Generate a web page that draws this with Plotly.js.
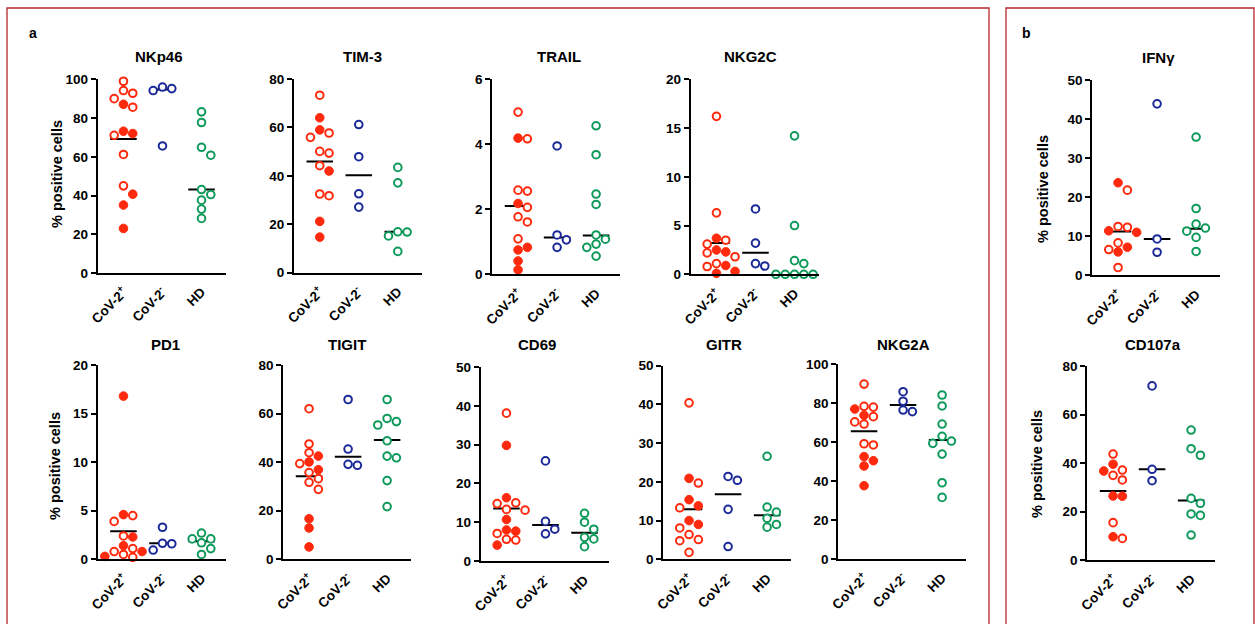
<!DOCTYPE html>
<html>
<head>
<meta charset="utf-8">
<script src="https://cdn.plot.ly/plotly-3.0.1.min.js"></script>
<style>html,body{margin:0;padding:0;background:#fff;}#chart{width:1255px;height:624px;}</style>
</head>
<body>
<div id="chart"></div>
<script>
// ---------------- DATA ----------------
const groups = ["CoV-2<sup>+</sup>", "CoV-2<sup>-</sup>", "HD"];
const markerNames = ["NKp46", "TIM-3", "TRAIL", "NKG2C", "IFNγ", "PD1", "TIGIT", "CD69", "GITR", "NKG2A", "CD107a"];

const nkp46_posOpen   = [99.0, 94.2, 92.8, 90.0, 85.6, 71.1, 61.2, 45.0];
const nkp46_posFilled = [87.1, 73.2, 72.0, 40.7, 35.1, 23.0];
const nkp46_neg       = [96.0, 95.2, 94.2, 65.6];
const nkp46_hd        = [83.2, 77.7, 64.9, 60.8, 43.1, 40.5, 37.6, 33.0, 28.2];
const nkp46_lines     = [69.2, 94.7, 43.1];

const tim3_posOpen    = [73.3, 57.7, 55.9, 50.1, 49.4, 44.2, 32.5, 31.8];
const tim3_posFilled  = [64.0, 59.0, 42.0, 21.2, 14.7];
const tim3_neg        = [61.2, 47.9, 32.6, 27.1];
const tim3_hd         = [43.5, 37.1, 16.9, 16.8, 15.2, 8.8];
const tim3_lines      = [45.9, 40.2, 16.9];

const trail_posOpen   = [4.99, 4.17, 2.59, 2.56, 2.06, 1.77, 1.61, 1.09];
const trail_posFilled = [4.19, 2.18, 0.83, 0.75, 0.41, 0.14];
const trail_neg       = [3.95, 1.21, 1.06, 0.83];
const trail_hd        = [4.57, 3.68, 2.47, 2.15, 1.21, 1.08, 0.93, 0.83, 0.56];
const trail_lines     = [2.10, 1.13, 1.19];

const nkg2c_posOpen   = [16.2, 6.3, 3.5, 3.1, 2.2, 1.8, 1.1, 0.8];
const nkg2c_posFilled = [3.7, 2.5, 2.3, 0.9, 0.3, 0.1];
const nkg2c_neg       = [6.7, 3.2, 1.1, 0.85];
const nkg2c_hd        = [14.2, 5.0, 1.4, 1.1, 0, 0, 0, 0, 0];
const nkg2c_lines     = [3.2, 2.2, 0];

const ifng_posOpen    = [21.8, 12.5, 12.3, 8.3, 6.6, 2.0];
const ifng_posFilled  = [23.7, 11.4, 11.0, 7.2, 6.0];
const ifng_neg        = [43.9, 9.3, 5.9];
const ifng_hd         = [35.4, 17.1, 13.1, 12.1, 11.3, 9.7, 6.1];
const ifng_lines      = [11.2, 9.3, 11.9];

const pd1_posOpen     = [4.5, 3.9, 2.4, 1.1, 0.8, 0.5, 0.2];
const pd1_posFilled   = [16.8, 4.6, 2.3, 1.4, 0.8, 0.3];
const pd1_neg         = [3.3, 1.65, 1.6, 0.95];
const pd1_hd          = [2.7, 2.1, 2.1, 1.7, 1.1, 0.5];
const pd1_lines       = [2.9, 1.65, 1.85];

const tigit_posOpen   = [62.0, 47.5, 43.9, 39.4, 35.7, 33.2, 31.7, 28.8];
const tigit_posFilled = [42.5, 40.1, 36.9, 16.7, 12.9, 5.1];
const tigit_neg       = [65.8, 45.4, 39.1, 38.7];
const tigit_hd        = [65.8, 58.0, 56.7, 55.3, 48.8, 42.5, 41.8, 32.4, 21.7];
const tigit_lines     = [34.2, 42.2, 49.1];

const cd69_posOpen    = [38.1, 15.0, 14.8, 13.3, 13.1, 7.1, 5.6, 5.4];
const cd69_posFilled  = [29.8, 16.3, 10.7, 8.0, 7.7, 4.1];
const cd69_neg        = [25.8, 10.2, 8.2, 7.0];
const cd69_hd         = [12.3, 10.0, 8.2, 6.1, 5.7, 3.7];
const cd69_lines      = [13.5, 9.3, 7.3];

const gitr_posOpen    = [40.4, 19.7, 13.3, 8.1, 6.4, 5.1, 4.8, 1.8];
const gitr_posFilled  = [20.9, 15.4, 13.8, 10.0, 9.0];
const gitr_neg        = [21.4, 20.4, 12.9, 3.3];
const gitr_hd         = [26.6, 13.5, 12.2, 10.6, 9.0, 8.3];
const gitr_lines      = [12.9, 16.8, 11.4];

const nkg2a_posOpen   = [89.7, 78.3, 77.9, 73.0, 70.3, 69.2, 59.1, 58.5];
const nkg2a_posFilled = [76.9, 73.7, 52.5, 50.4, 47.7, 37.6];
const nkg2a_neg       = [85.8, 80.9, 76.4, 75.6];
const nkg2a_hd        = [84.1, 78.5, 69.2, 62.9, 60.5, 59.3, 53.8, 39.1, 31.6];
const nkg2a_lines     = [65.5, 79.0, 61.0];

const cd107a_posOpen   = [43.7, 37.1, 34.9, 33.0, 15.4, 8.9];
const cd107a_posFilled = [39.5, 36.7, 26.4, 26.3, 9.6];
const cd107a_neg       = [71.8, 37.4, 32.7];
const cd107a_hd        = [53.6, 45.9, 43.2, 25.4, 23.4, 19.0, 18.4, 10.3];
const cd107a_lines     = [28.5, 37.4, 24.5];

const yMax  = [100, 80, 6, 20, 50, 20, 80, 50, 50, 100, 80];
const yStep = [20, 20, 2, 5, 10, 5, 20, 10, 10, 20, 20];

// ---------------- LAYOUT / STYLE ----------------
const W = 1255, H = 624;
const RED = "#ff2a0e", BLUE = "#1b2a98", GREEN = "#0f9a5c", BORDER = "#b3262b";
const FONT = "Liberation Sans, Arial, Helvetica, sans-serif";
const XR = [-0.66, 2.62], XW = 128, PXCAT = XW / (XR[1] - XR[0]);

const series = [
  [nkp46_posOpen, nkp46_posFilled, nkp46_neg, nkp46_hd, nkp46_lines],
  [tim3_posOpen, tim3_posFilled, tim3_neg, tim3_hd, tim3_lines],
  [trail_posOpen, trail_posFilled, trail_neg, trail_hd, trail_lines],
  [nkg2c_posOpen, nkg2c_posFilled, nkg2c_neg, nkg2c_hd, nkg2c_lines],
  [ifng_posOpen, ifng_posFilled, ifng_neg, ifng_hd, ifng_lines],
  [pd1_posOpen, pd1_posFilled, pd1_neg, pd1_hd, pd1_lines],
  [tigit_posOpen, tigit_posFilled, tigit_neg, tigit_hd, tigit_lines],
  [cd69_posOpen, cd69_posFilled, cd69_neg, cd69_hd, cd69_lines],
  [gitr_posOpen, gitr_posFilled, gitr_neg, gitr_hd, gitr_lines],
  [nkg2a_posOpen, nkg2a_posFilled, nkg2a_neg, nkg2a_hd, nkg2a_lines],
  [cd107a_posOpen, cd107a_posFilled, cd107a_neg, cd107a_hd, cd107a_lines]
];

// panel geometry in pixels: [x0, yTop, yBottom]
const geom = [
  [97.7, 79.3, 273.0], [294.0, 79.0, 272.7], [492.3, 79.3, 274.3], [690.7, 79.3, 274.3], [1092.3, 80.0, 275.3],
  [97.7, 365.0, 559.3], [283.3, 365.0, 559.3], [480.7, 367.0, 561.0], [663.3, 365.7, 559.3], [838.3, 364.0, 559.0], [1087.3, 366.0, 560.0]
];
const titlePos = [
  [159, 56], [362, 56], [559, 56], [750, 56], [1158, 57],
  [165, 344], [347, 344], [537, 344], [724, 344], [903, 344], [1153, 344]
];
const yTitlePos = [[57, 174, 0], [55, 466, 5], [1043, 189, 4], [1037, 464, 10]];

// simple beeswarm layout (horizontal spreading of overlapping dots)
function swarm(vals, center, pxY) {
  const step = 9.3 / PXCAT, D = 8.6;
  const order = vals.map((v, i) => i).sort((a, b) => vals[b] - vals[a]);
  const placed = [], xs = new Array(vals.length);
  const cands = [0, 1, -1, 2, -2, 3, -3, 4, -4];
  for (const i of order) {
    let chosen = 0;
    for (const k of cands) {
      const x = k * step;
      let ok = true;
      for (const p of placed) {
        const ddx = (x - p.x) * PXCAT, ddy = (vals[i] - p.v) * pxY;
        if (Math.sqrt(ddx * ddx + ddy * ddy) < D) { ok = false; break; }
      }
      if (ok) { chosen = x; break; }
    }
    placed.push({x: chosen, v: vals[i]});
    xs[i] = center + chosen;
  }
  return xs;
}

const traces = [], layout = {
  width: W, height: H, margin: {l: 0, r: 0, t: 0, b: 0},
  paper_bgcolor: "#fff", plot_bgcolor: "rgba(0,0,0,0)", showlegend: false,
  font: {family: FONT, color: "#000"}, annotations: [], shapes: []
};

series.forEach((s, i) => {
  const sfx = i === 0 ? "" : String(i + 1);
  const [x0, yT, yB] = geom[i];
  const pxY = (yB - yT) / yMax[i];
  layout["xaxis" + sfx] = {
    domain: [x0 / W, (x0 + XW) / W], range: XR, anchor: "y" + sfx,
    tickvals: [0, 1, 2], ticktext: groups, tickangle: -45, ticklabelstandoff: 4,
    tickfont: {family: FONT, size: 13.5, weight: "bold", color: "#000"},
    showline: true, linecolor: "#000", linewidth: 2, ticks: "", showgrid: false, zeroline: false, fixedrange: true
  };
  layout["yaxis" + sfx] = {
    domain: [1 - yB / H, 1 - yT / H], range: [0, yMax[i]], anchor: "x" + sfx,
    tickmode: "linear", tick0: 0, dtick: yStep[i],
    tickfont: {family: FONT, size: 13.5, weight: "bold", color: "#000"},
    showline: true, linecolor: "#000", linewidth: 2, ticks: "outside", ticklen: 5, tickwidth: 2, tickcolor: "#000",
    showgrid: false, zeroline: false, fixedrange: true
  };
  const xa = "x" + sfx, ya = "y" + sfx;
  // mean/median lines
  s[4].forEach((m, g) => {
    traces.push({type: "scatter", mode: "lines", x: [g - 0.34, g + 0.34], y: [m, m], xaxis: xa, yaxis: ya,
      line: {color: "#000", width: 2}, hoverinfo: "skip", cliponaxis: false});
  });
  // CoV-2+ (open + filled share one swarm)
  const posAll = s[0].concat(s[1]);
  const posX = swarm(posAll, 0, pxY);
  const nO = s[0].length;
  traces.push({type: "scatter", mode: "markers", x: posX.slice(0, nO), y: s[0], xaxis: xa, yaxis: ya, cliponaxis: false,
    marker: {symbol: "circle", size: 7.6, color: "#fff", line: {color: RED, width: 2}}});
  traces.push({type: "scatter", mode: "markers", x: posX.slice(nO), y: s[1], xaxis: xa, yaxis: ya, cliponaxis: false,
    marker: {symbol: "circle", size: 8.6, color: RED, line: {color: RED, width: 1}}});
  traces.push({type: "scatter", mode: "markers", x: swarm(s[2], 1, pxY), y: s[2], xaxis: xa, yaxis: ya, cliponaxis: false,
    marker: {symbol: "circle", size: 7.6, color: "#fff", line: {color: BLUE, width: 2}}});
  traces.push({type: "scatter", mode: "markers", x: swarm(s[3], 2, pxY), y: s[3], xaxis: xa, yaxis: ya, cliponaxis: false,
    marker: {symbol: "circle", size: 7.6, color: "#fff", line: {color: GREEN, width: 2}}});
  // panel title
  layout.annotations.push({text: "<b>" + markerNames[i] + "</b>", xref: "paper", yref: "paper",
    x: titlePos[i][0] / W, y: 1 - titlePos[i][1] / H, xanchor: "center", yanchor: "middle", showarrow: false,
    font: {family: FONT, size: 15, color: "#000"}});
});

yTitlePos.forEach(p => {
  layout.annotations.push({text: "<b>% positive cells</b>", xref: "paper", yref: "paper",
    x: p[0] / W, y: 1 - p[1] / H, xanchor: "center", yanchor: "middle", textangle: -90, showarrow: false,
    font: {family: FONT, size: 14.5, color: "#000"}});
});
[["a", 33, 33], ["b", 1026, 33]].forEach(p => {
  layout.annotations.push({text: "<b>" + p[0] + "</b>", xref: "paper", yref: "paper",
    x: p[1] / W, y: 1 - p[2] / H, xanchor: "center", yanchor: "middle", showarrow: false,
    font: {family: FONT, size: 14, color: "#000"}});
});
layout.shapes.push({type: "rect", xref: "paper", yref: "paper", x0: 7 / W, x1: 989 / W, y0: -0.05, y1: 1 - 8 / H,
  line: {color: BORDER, width: 1.3}});
layout.shapes.push({type: "rect", xref: "paper", yref: "paper", x0: 1006 / W, x1: 1254 / W, y0: -0.05, y1: 1 - 8 / H,
  line: {color: BORDER, width: 1.3}});

Plotly.newPlot("chart", traces, layout, {displayModeBar: false, staticPlot: true});
</script>
</body>
</html>
